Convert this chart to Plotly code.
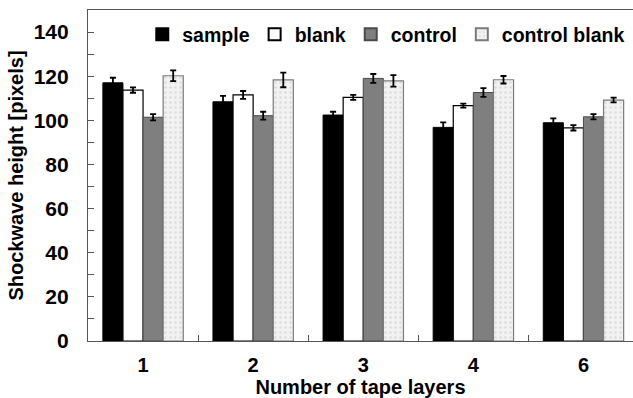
import plotly.graph_objects as go

# Number of tape layers (x categories)
layers = ["1", "2", "3", "4", "6"]

# Mean shockwave heights [pixels] per series
sample = [117.0, 108.4, 102.4, 96.8, 98.9]
blank = [113.7, 111.5, 110.4, 106.7, 96.6]
control = [101.4, 102.1, 119.0, 112.6, 101.6]
control_blank = [120.2, 118.3, 117.9, 118.4, 109.2]

# Error bar half-lengths
sample_err = [2.3, 2.7, 1.5, 2.3, 2.0]
blank_err = [1.2, 1.8, 1.1, 0.9, 1.2]
control_err = [1.4, 1.8, 2.0, 2.0, 1.2]
control_blank_err = [2.4, 3.3, 2.6, 1.7, 1.1]

FONT = "Liberation Sans, Arial, sans-serif"

err_style = dict(type="data", visible=True, color="black", thickness=1.8, width=3)

fig = go.Figure()
fig.add_trace(go.Bar(
    name="sample", x=layers, y=sample,
    error_y=dict(array=sample_err, **err_style),
    marker=dict(color="black", line=dict(color="black", width=1)),
))
fig.add_trace(go.Bar(
    name="blank", x=layers, y=blank,
    error_y=dict(array=blank_err, **err_style),
    marker=dict(color="white", line=dict(color="black", width=1.2)),
))
fig.add_trace(go.Bar(
    name="control", x=layers, y=control,
    error_y=dict(array=control_err, **err_style),
    marker=dict(color="#7f7f7f", line=dict(color="#4a4a4a", width=1)),
))
fig.add_trace(go.Bar(
    name="control blank", x=layers, y=control_blank,
    error_y=dict(array=control_blank_err, **err_style),
    marker=dict(
        color="#eeeeee",
        line=dict(color="#7a7a7a", width=1.2),
        pattern=dict(shape=".", fgcolor="#c4c4c4", bgcolor="#f2f2f2",
                     size=5, solidity=0.2),
    ),
))

fig.update_layout(
    width=633, height=398,
    margin=dict(l=88, r=0, t=10, b=57),
    paper_bgcolor="white", plot_bgcolor="white",
    barmode="group", bargap=0.27, bargroupgap=0,
    font=dict(family=FONT, size=20, color="black"),
    showlegend=True,
    legend=dict(
        orientation="h", x=0.995, xanchor="right", y=0.985, yanchor="top",
        font=dict(family=FONT, size=19.5, color="black", weight="bold"),
        bgcolor="rgba(0,0,0,0)", itemsizing="constant",
    ),
)

fig.update_xaxes(
    range=[-0.5, 4.45], automargin=False,
    showline=True, linecolor="#555555", linewidth=1.2, mirror=True,
    ticks="inside", ticklen=6, tickcolor="#555555", tickson="boundaries",
    tickfont=dict(family=FONT, size=20, weight="bold"),
    ticklabelstandoff=6,
    title=dict(text="<b>Number of tape layers</b>", standoff=4,
               font=dict(family=FONT, size=20)),
    showgrid=False, zeroline=False,
)

fig.update_yaxes(
    range=[0, 150], dtick=20, tick0=0, automargin=False,
    showline=True, linecolor="#555555", linewidth=1.2,
    ticks="inside", ticklen=6, tickcolor="#555555",
    minor=dict(dtick=10, ticks="inside", ticklen=6, tickcolor="#555555"),
    tickfont=dict(family=FONT, size=21, weight="bold"),
    ticklabelstandoff=14,
    title=dict(text="<b>Shockwave height [pixels]</b>", standoff=4,
               font=dict(family=FONT, size=20)),
    showgrid=False, zeroline=False,
    labelalias={150: ""},
)

fig.write_html("out.html")
